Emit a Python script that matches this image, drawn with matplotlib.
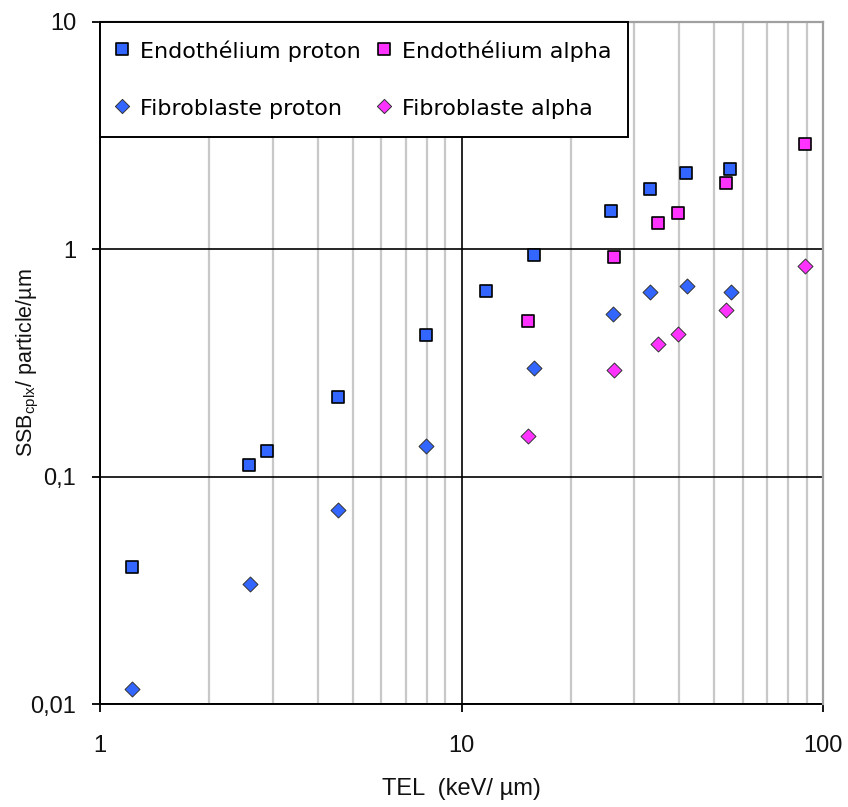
import matplotlib
matplotlib.use("Agg")
import matplotlib.pyplot as plt
from matplotlib.ticker import FixedLocator, FixedFormatter, NullFormatter

# TEL (keV/µm) and complex SSB yield per particle per µm
endo_proton_tel = [1.23, 2.58, 2.90, 4.55, 7.97, 11.7, 15.9, 25.9, 33.2, 41.8, 55.3]
endo_proton_ssb = [0.040, 0.112, 0.130, 0.224, 0.419, 0.654, 0.94, 1.47, 1.84, 2.16, 2.25]

fibro_proton_tel = [1.23, 2.60, 4.55, 7.97, 15.9, 26.2, 33.2, 41.9, 55.5]
fibro_proton_ssb = [0.0116, 0.0338, 0.0714, 0.136, 0.299, 0.518, 0.645, 0.688, 0.645]

alpha_tel = [15.25, 26.35, 34.9, 39.75, 53.9, 88.8]
endo_alpha_ssb = [0.483, 0.922, 1.30, 1.44, 1.955, 2.91]
fibro_alpha_ssb = [0.151, 0.294, 0.383, 0.423, 0.538, 0.842]

y_ticks = [0.01, 0.1, 1, 10]
y_ticklabels = ["0,01", "0,1", "1", "10"]
x_ticks = [1, 10, 100]
x_ticklabels = ["1", "10", "100"]

BLUE = "#3366ff"
MAGENTA = "#ff33ff"

fig = plt.figure(figsize=(8.48, 8.07), dpi=100)
ax = fig.add_axes([0.1179, 0.1276, 0.853, 0.8457])
ax.set_xscale("log")
ax.set_yscale("log")
ax.set_xlim(1, 100)
ax.set_ylim(0.01, 10)

ax.xaxis.set_major_locator(FixedLocator(x_ticks))
ax.xaxis.set_major_formatter(FixedFormatter(x_ticklabels))
ax.xaxis.set_minor_locator(FixedLocator([m * d for d in (1, 10) for m in range(2, 10)]))
ax.xaxis.set_minor_formatter(NullFormatter())
ax.yaxis.set_major_locator(FixedLocator(y_ticks))
ax.yaxis.set_major_formatter(FixedFormatter(y_ticklabels))
ax.yaxis.set_minor_locator(FixedLocator([]))

ax.set_axisbelow(True)
ax.grid(which="minor", axis="x", color="#c8c8c8", linewidth=1.6)
ax.grid(which="major", axis="both", color="black", linewidth=1.2)

for side in ("left", "bottom"):
    ax.spines[side].set_color("black")
    ax.spines[side].set_linewidth(1.4)
for side in ("top", "right"):
    ax.spines[side].set_color("#a0a0a0")
    ax.spines[side].set_linewidth(1.6)
    ax.spines[side].set_zorder(3)

ax.tick_params(axis="both", which="major", direction="out", length=6, width=1.3,
               color="black")
ax.tick_params(axis="x", which="major", pad=16)
ax.tick_params(axis="y", which="major", pad=11)
ax.tick_params(axis="x", which="minor", length=0)
for lab in ax.get_xticklabels() + ax.get_yticklabels():
    lab.set_fontfamily("Liberation Sans")
    lab.set_fontsize(17)
    lab.set_color("#111111")

sq = dict(marker="s", s=72, edgecolors="black", linewidths=1.2, zorder=4)
dm = dict(marker="D", s=58, edgecolors="#333333", linewidths=0.7, zorder=4)

ax.scatter(endo_proton_tel, endo_proton_ssb, color=BLUE, label="Endothélium proton", **sq)
ax.scatter(fibro_proton_tel, fibro_proton_ssb, color=BLUE, label="Fibroblaste proton", **dm)
ax.scatter(alpha_tel, endo_alpha_ssb, color=MAGENTA, label="Endothélium alpha", **sq)
ax.scatter(alpha_tel, fibro_alpha_ssb, color=MAGENTA, label="Fibroblaste alpha", **dm)

ax.set_xlabel("TEL  (keV/ µm)", fontfamily="Liberation Sans", fontsize=17, color="#111111")
ax.xaxis.set_label_coords(0.5, -0.108)
ax.set_ylabel(r"SSB$_{\mathregular{cplx}}$/ particle/µm", fontfamily="Liberation Sans",
              fontsize=15.5, color="#111111")
ax.yaxis.set_label_coords(-0.082, 0.5)

leg = ax.legend(loc="upper left", bbox_to_anchor=(0, 1), borderaxespad=0, ncol=2,
                prop={"family": "DejaVu Sans", "size": 16}, frameon=True, fancybox=False,
                edgecolor="black", framealpha=1, markerscale=0.95, handlelength=0.5,
                handleheight=1.32, handletextpad=0.55, columnspacing=0.8,
                labelspacing=1.47, borderpad=0.75, scatterpoints=1)
leg.get_frame().set_linewidth(1.4)
leg.set_zorder(5)

fig.savefig("out.png", dpi=100)
